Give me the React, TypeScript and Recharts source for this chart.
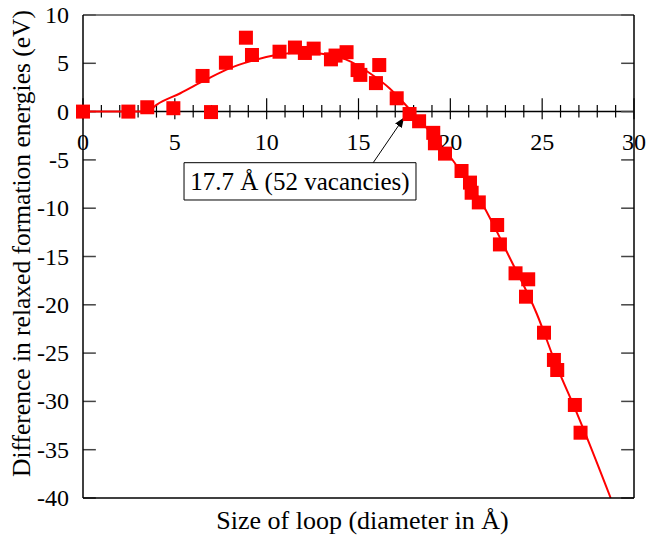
import {
  ComposedChart,
  Line,
  Scatter,
  XAxis,
  YAxis,
  ReferenceLine,
  ReferenceDot,
  ReferenceArea,
} from "recharts";

// measured loop diameters (Å) and energy differences (eV)
const pointX = [
  0, 2.47, 3.5, 4.92, 6.97, 6.51, 7.78, 8.87, 9.2, 10.7, 11.54, 12.08, 12.56, 13.5, 13.75, 14.35,
  14.95, 15.1, 16.13, 15.95, 17.08, 17.78, 18.3, 19.07, 19.16, 19.71, 20.61, 21.07, 21.16, 21.55,
  22.55, 22.7, 23.55, 24.24, 24.12, 25.1, 25.64, 25.82, 26.78, 27.09,
];
const pointY = [
  0, 0, 0.45, 0.35, -0.05, 3.69, 5.06, 7.65, 5.86, 6.2, 6.63, 6.07, 6.52, 5.41, 5.8, 6.15,
  4.3, 3.8, 4.82, 2.95, 1.38, -0.25, -1.0, -2.2, -3.28, -4.35, -6.15, -7.35, -8.4, -9.4,
  -11.74, -13.75, -16.74, -17.36, -19.16, -22.89, -25.71, -26.75, -30.37, -33.24,
];

// fitted curve
const curveX = [
  0, 3.5, 4, 5.3, 6.7, 8, 9.1, 10.5, 12, 13, 14.3, 15.6, 16.7, 17.8, 18.9, 20, 20.9, 21.7,
  22.5, 23.2, 24.7, 25.8, 26.8, 27.3, 28.73,
];
const curveY = [
  0, 0, 0.7, 1.9, 3.3, 4.5, 5.2, 5.85, 6.15, 6.0, 5.4, 4.0, 2.4, 0.2, -2.1, -4.7, -7.1, -9.4,
  -12.3, -15, -20.9, -26.4, -30.8, -33.1, -40,
];

const xMajorTicks = [0, 5, 10, 15, 20, 25, 30];
const xMinorTicks = [1, 2, 3, 4, 6, 7, 8, 9, 11, 12, 13, 14, 16, 17, 18, 19, 21, 22, 23, 24, 26, 27, 28, 29];
const yTicks = [-40, -35, -30, -25, -20, -15, -10, -5, 0, 5, 10];

const points = pointX.map((x, i) => ({ x, y: pointY[i] }));
const curve = curveX.map((x, i) => ({ x, y: curveY[i] }));

const FONT = "'Liberation Serif', 'Times New Roman', serif";
const tickStyle = { fontFamily: FONT, fontSize: 24, fill: "#000" };
const titleStyle = { fontFamily: FONT, fontSize: 26, fill: "#000" };

function Square(props: any) {
  const { cx, cy } = props;
  return <rect x={cx - 7} y={cy - 7} width={14} height={14} fill="#ff0000" />;
}

function YTick(props: any) {
  const { x, y, payload } = props;
  return (
    <text x={x} y={y} textAnchor="end" dominantBaseline="central" style={tickStyle}>
      {payload.value}
    </text>
  );
}

export default function App() {
  return (
    <div style={{ position: "absolute", left: 0, top: 0, fontFamily: FONT }}>
      <svg width={0} height={0} style={{ position: "absolute" }}>
        <defs>
          <marker id="arrowHead" markerWidth="10" markerHeight="8" refX="9" refY="4" orient="auto" markerUnits="userSpaceOnUse">
            <path d="M0,0 L10,4 L0,8 Z" fill="#000" />
          </marker>
        </defs>
      </svg>
      <ComposedChart
        width={649}
        height={538}
        margin={{ top: 14, right: 14, bottom: 39, left: 82 }}
        style={{ fontFamily: FONT }}
      >
        <XAxis
          dataKey="x"
          type="number"
          domain={[0, 30]}
          ticks={xMajorTicks}
          tick={false}
          tickLine={false}
          height={1}
          axisLine={{ stroke: "#000", strokeWidth: 1.5 }}
          label={{
            content: (p: any) => {
              const vb = p.viewBox;
              return (
                <text x={vb.x + vb.width / 2 + 4} y={vb.y + 31} textAnchor="middle" style={titleStyle}>
                  Size of loop (diameter in Å)
                </text>
              );
            },
          }}
        />
        <XAxis xAxisId="top" orientation="top" type="number" domain={[0, 30]} tick={false} tickLine={false} height={1} axisLine={{ stroke: "#555", strokeWidth: 1.5 }} />
        <YAxis
          dataKey="y"
          type="number"
          domain={[-40, 10]}
          ticks={yTicks}
          width={1}
          tickLine={false}
          tickMargin={8}
          axisLine={{ stroke: "#000", strokeWidth: 1.5 }}
          tick={<YTick />}
          label={{
            content: (p: any) => {
              const vb = p.viewBox;
              const cx = vb.x - 61;
              const cy = vb.y + vb.height / 2 - 13;
              return (
                <text
                  x={cx}
                  y={cy}
                  transform={`rotate(-90, ${cx}, ${cy})`}
                  textAnchor="middle"
                  dominantBaseline="central"
                  style={{ ...titleStyle, fontSize: 25.5 }}
                >
                  Difference in relaxed formation energies (eV)
                </text>
              );
            },
          }}
        />
        <YAxis yAxisId="right" orientation="right" type="number" domain={[-40, 10]} width={1} tick={false} tickLine={false} axisLine={{ stroke: "#000", strokeWidth: 1.5 }} />

        <ReferenceLine y={0} stroke="#000" strokeWidth={1.5} />
        {xMinorTicks.map((t) => (
          <ReferenceLine key={`mn${t}`} segment={[{ x: t, y: -0.62 }, { x: t, y: 0.68 }]} stroke="#000" strokeWidth={1.2} />
        ))}
        {xMajorTicks.map((t) => (
          <ReferenceLine key={`mj${t}`} segment={[{ x: t, y: -0.8 }, { x: t, y: 1.38 }]} stroke="#000" strokeWidth={1.2} />
        ))}
        {xMajorTicks.map((t) => (
          <ReferenceDot
            key={`lb${t}`}
            x={t}
            y={0}
            r={0}
            fill="none"
            stroke="none"
            label={{
              content: (p: any) => {
                const vb = p.viewBox;
                return (
                  <text x={vb.x} y={vb.y + 38} textAnchor="middle" style={tickStyle}>
                    {t}
                  </text>
                );
              },
            }}
          />
        ))}
        {yTicks.map((t) => (
          <ReferenceLine key={`yl${t}`} segment={[{ x: 0, y: t }, { x: 0.7, y: t }]} stroke="#444" strokeWidth={1.5} />
        ))}
        {yTicks.map((t) => (
          <ReferenceLine key={`yr${t}`} segment={[{ x: 29.3, y: t }, { x: 30, y: t }]} stroke="#444" strokeWidth={1.5} />
        ))}

        <ReferenceArea
          x1={5.5}
          x2={18.13}
          y1={-9.15}
          y2={-5.29}
          fill="#fff"
          fillOpacity={1}
          stroke="#000"
          strokeWidth={1}
          label={{
            content: (p: any) => {
              const vb = p.viewBox;
              return (
                <text
                  x={vb.x + vb.width / 2}
                  y={vb.y + vb.height / 2}
                  textAnchor="middle"
                  dominantBaseline="central"
                  style={{ ...tickStyle, fontSize: 25 }}
                >
                  17.7 Å (52 vacancies)
                </text>
              );
            },
          }}
        />
        <ReferenceLine
          segment={[{ x: 15.8, y: -5.29 }, { x: 17.45, y: -0.7 }]}
          stroke="#000"
          strokeWidth={1}
          markerEnd="url(#arrowHead)"
        />

        <Line
          data={curve}
          dataKey="y"
          type="monotone"
          stroke="#ff0000"
          strokeWidth={2}
          dot={false}
          isAnimationActive={false}
        />
        <Scatter data={points} dataKey="y" shape={Square} isAnimationActive={false} />
      </ComposedChart>
    </div>
  );
}
